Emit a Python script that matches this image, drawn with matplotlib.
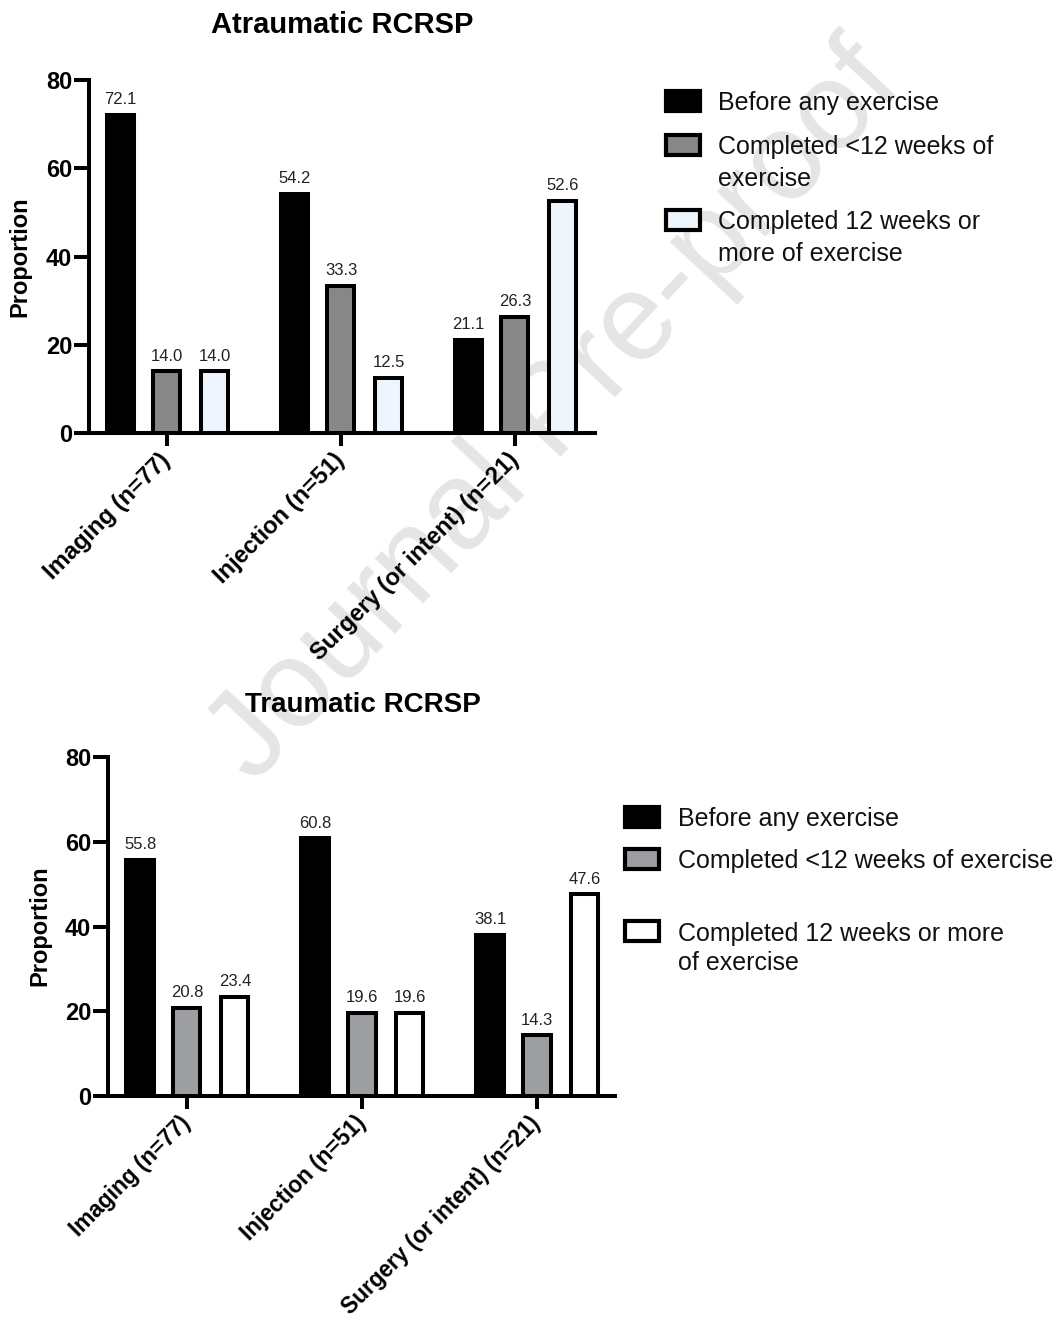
import matplotlib
matplotlib.use("Agg")
import matplotlib.pyplot as plt
import matplotlib.patches as patches
import numpy as np

plt.rcParams['font.family'] = ['Liberation Sans', 'DejaVu Sans']

# --- datos ---
categorias = ["Imaging (n=77)", "Injection (n=51)", "Surgery (or intent) (n=21)"]

atraum_antes = [72.1, 54.2, 21.1]
atraum_menos12 = [14.0, 33.3, 26.3]
atraum_mas12 = [14.0, 12.5, 52.6]

traum_antes = [55.8, 60.8, 38.1]
traum_menos12 = [20.8, 19.6, 14.3]
traum_mas12 = [23.4, 19.6, 47.6]

leyenda_arriba = ["Before any exercise", "Completed <12 weeks of\nexercise",
                  "Completed 12 weeks or\nmore of exercise"]
leyenda_abajo = ["Before any exercise", "Completed <12 weeks of exercise",
                 "Completed 12 weeks or more\nof exercise"]

W, H = 1054, 1320
fig = plt.figure(figsize=(W / 100, H / 100), dpi=100)


def px_ax(left, right, top, bottom):
    return [left / W, 1 - bottom / H, (right - left) / W, (bottom - top) / H]


def fx(x):
    return x / W


def fy(y):
    return 1 - y / H


# marca de agua (por detras de todo)
fig.text(fx(556), fy(414), "Journal Pre-proof", fontsize=89, color='#e5e5e5',
         rotation=47, ha='center', va='center', zorder=-10)


def dibujar_panel(pos, titulo, tit_xy, tit_size, valores, colores, xlim, ylab_xy, tick_size):
    ax = fig.add_axes(pos)
    ax.set_facecolor('none')
    x = np.arange(len(categorias))
    offsets = [-0.268, 0.0, 0.274]
    for vals, off, col in zip(valores, offsets, colores):
        bars = ax.bar(x + off, vals, width=0.155, color=col, edgecolor='black',
                      linewidth=2.9, zorder=3)
        for b, v in zip(bars, vals):
            ax.annotate(f"{v:.1f}", (b.get_x() + b.get_width() / 2, v),
                        xytext=(0, 5.5), textcoords='offset points',
                        ha='center', va='bottom', fontsize=12, color='#222222')
    ax.set_xlim(*xlim)
    ax.set_ylim(0, 80)
    ax.set_yticks([0, 20, 40, 60, 80])
    ax.set_xticks(x)
    ax.set_xticklabels(categorias, rotation=45, ha='right', va='center',
                       rotation_mode='anchor', fontsize=tick_size, fontweight='bold')
    for lab in ax.get_yticklabels():
        lab.set_fontweight('bold')
        lab.set_fontsize(17)
    ax.tick_params(axis='y', length=11, width=2.9, pad=1)
    ax.tick_params(axis='x', length=9, width=2.9, pad=8)
    for s in ['top', 'right']:
        ax.spines[s].set_visible(False)
    for s in ['left', 'bottom']:
        ax.spines[s].set_linewidth(2.9)
    fig.text(fx(ylab_xy[0]), fy(ylab_xy[1]), "Proportion", rotation=90, fontsize=17,
             fontweight='bold', ha='center', va='center')
    fig.text(fx(tit_xy[0]), fy(tit_xy[1]), titulo, fontsize=tit_size, fontweight='bold',
             ha='center', va='center')
    return ax


colores_arriba = ['black', '#878787', '#eef5fc']
colores_abajo = ['black', '#9d9ea1', 'white']

dibujar_panel(px_ax(89, 595, 80, 433), "Atraumatic RCRSP", (342, 25), 21,
              [atraum_antes, atraum_menos12, atraum_mas12], colores_arriba,
              (-0.448, 2.46), (20, 257), 17)
dibujar_panel(px_ax(108, 615, 757, 1096), "Traumatic RCRSP", (363, 705), 20,
              [traum_antes, traum_menos12, traum_mas12], colores_abajo,
              (-0.451, 2.446), (40, 926), 16.3)


def dibujar_leyenda(box_x, text_x, filas, etiquetas, colores, interlineado):
    for (y, ytxt), lab, col in zip(filas, etiquetas, colores):
        rect = patches.Rectangle((fx(box_x), fy(y + 10)), 34 / W, 20 / H,
                                 transform=fig.transFigure, facecolor=col,
                                 edgecolor='black', linewidth=3.0)
        fig.add_artist(rect)
        fig.text(fx(text_x), fy(ytxt), lab, fontsize=18, ha='left', va='top',
                 linespacing=interlineado, color='#111111')


dibujar_leyenda(666, 718, [(101, 91), (145, 135), (220, 210)], leyenda_arriba,
                colores_arriba, 1.42)
dibujar_leyenda(625, 678, [(817, 807), (859, 849), (931, 922)], leyenda_abajo,
                colores_abajo, 1.28)

plt.savefig('out.png', dpi=100, facecolor='white')
